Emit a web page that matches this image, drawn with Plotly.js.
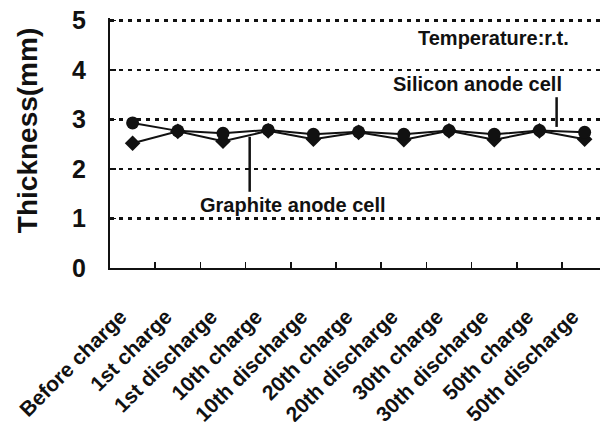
<!DOCTYPE html>
<html>
<head>
<meta charset="utf-8">
<script src="https://cdn.plot.ly/plotly-3.0.1.min.js"></script>
<style>html,body{margin:0;padding:0;background:#fff;}#chart{width:600px;height:422px;}</style>
</head>
<body>
<div id="chart"></div>
<script>
// Cell thickness at each stage of cycling
const stages = ["Before charge", "1st charge", "1st discharge", "10th charge", "10th discharge",
  "20th charge", "20th discharge", "30th charge", "30th discharge", "50th charge", "50th discharge"];
const siliconThickness = [2.93, 2.77, 2.72, 2.79, 2.70, 2.75, 2.70, 2.78, 2.70, 2.78, 2.74];
const graphiteThickness = [2.52, 2.76, 2.56, 2.77, 2.60, 2.74, 2.59, 2.77, 2.59, 2.77, 2.60];
const yTicks = [0, 1, 2, 3, 4, 5];

const FONT = "Liberation Sans, Arial, sans-serif";

const traces = [
  {
    x: stages, y: graphiteThickness, type: "scatter", mode: "lines+markers",
    name: "Graphite anode cell",
    line: {color: "#111", width: 2},
    marker: {symbol: "diamond", size: 12, color: "#111"}
  },
  {
    x: stages, y: siliconThickness, type: "scatter", mode: "lines+markers",
    name: "Silicon anode cell",
    line: {color: "#111", width: 2},
    marker: {symbol: "circle", size: 13, color: "#111"}
  }
];

const layout = {
  width: 600, height: 422,
  margin: {l: 110, r: 0, t: 18, b: 154},
  paper_bgcolor: "#fff", plot_bgcolor: "#fff",
  showlegend: false,
  font: {family: FONT, color: "#111"},
  xaxis: {
    type: "category",
    range: [-0.5, 10.34],
    showline: true, linecolor: "#111", linewidth: 2,
    ticks: "inside", ticklen: 6, tickwidth: 1.5, tickcolor: "#111",
    tickson: "boundaries",
    showgrid: false, zeroline: false,
    tickangle: -45,
    ticklabelstandoff: 26,
    ticklabelshift: -12,
    tickfont: {family: FONT, size: 21, color: "#111", weight: "bold"}
  },
  yaxis: {
    range: [0, 5.05],
    tickvals: yTicks,
    showline: true, linecolor: "#111", linewidth: 2,
    ticks: "inside", ticklen: 6, tickwidth: 1.5, tickcolor: "#111",
    showgrid: true, gridcolor: "#111", gridwidth: 2.5, griddash: "4px,5px",
    zeroline: false,
    ticklabelstandoff: 17,
    tickfont: {family: FONT, size: 25, color: "#111", weight: "bold"}
  },
  shapes: [
    {type: "line", xref: "x", yref: "y", x0: 9.38, x1: 9.38, y0: 3.45, y1: 2.85,
      line: {color: "#111", width: 2.5}},
    {type: "line", xref: "x", yref: "y", x0: 2.59, x1: 2.59, y0: 2.65, y1: 1.54,
      line: {color: "#111", width: 2.5}}
  ],
  annotations: [
    {text: "Thickness(mm)", xref: "paper", yref: "paper", x: -0.168, y: 0.55,
      xanchor: "center", yanchor: "middle", textangle: -90, showarrow: false,
      font: {family: FONT, size: 28, color: "#111", weight: "bold"}},
    {text: "Temperature:r.t.", xref: "x", yref: "y", x: 7.99, y: 4.65, showarrow: false,
      font: {family: FONT, size: 20, color: "#111", weight: "bold"}},
    {text: "Silicon anode cell", xref: "x", yref: "y", x: 7.64, y: 3.72, showarrow: false,
      font: {family: FONT, size: 20, color: "#111", weight: "bold"}},
    {text: "Graphite anode cell", xref: "x", yref: "y", x: 3.55, y: 1.27, showarrow: false,
      font: {family: FONT, size: 20, color: "#111", weight: "bold"}}
  ]
};

Plotly.newPlot("chart", traces, layout, {staticPlot: true, displayModeBar: false});
</script>
</body>
</html>
